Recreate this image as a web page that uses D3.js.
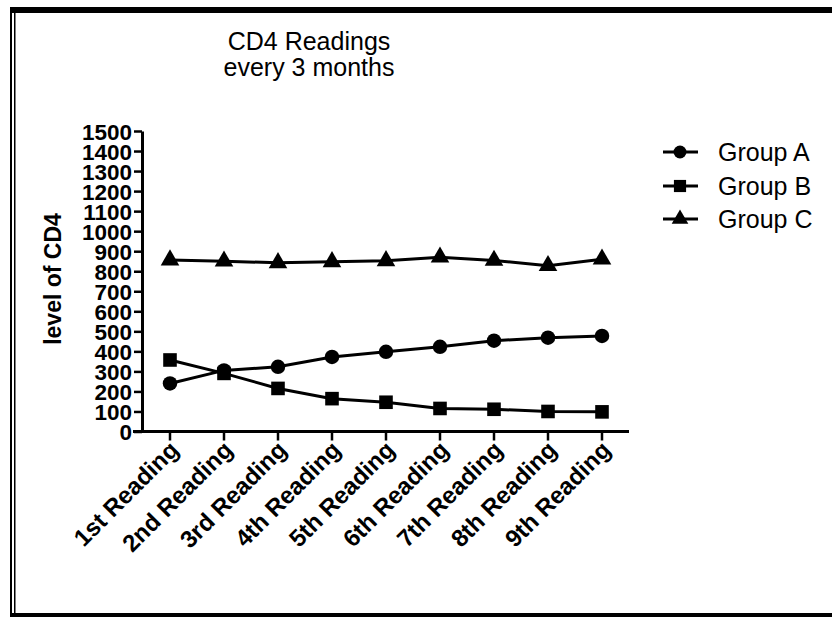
<!DOCTYPE html>
<html>
<head>
<meta charset="utf-8">
<script src="https://cdn.jsdelivr.net/npm/d3@7"></script>
<style>
  html, body { margin: 0; padding: 0; background: #fff; }
  svg { display: block; }
  text { font-family: Arial, "Liberation Sans", sans-serif; fill: #000; }
</style>
</head>
<body>
<svg id="chart" width="832" height="617"></svg>
<script>
const categories = ["1st Reading","2nd Reading","3rd Reading","4th Reading","5th Reading","6th Reading","7th Reading","8th Reading","9th Reading"];
const groupA = [240, 305, 323, 372, 398, 423, 453, 468, 477];
const groupB = [357, 290, 215, 164, 146, 115, 111, 100, 98];
const groupC = [856, 850, 842, 847, 852, 870, 854, 828, 860];
const seriesNames = ["Group A", "Group B", "Group C"];
const yTicks = [0,100,200,300,400,500,600,700,800,900,1000,1100,1200,1300,1400,1500];
const titleLines = ["CD4 Readings", "every 3 months"];
const yLabel = "level of CD4";

const svg = d3.select("#chart");

// frame
svg.append("rect").attr("x", 10).attr("y", 7).attr("width", 822).attr("height", 6).attr("fill", "#000");
svg.append("rect").attr("x", 10).attr("y", 613).attr("width", 822).attr("height", 4).attr("fill", "#000");
svg.append("rect").attr("x", 10).attr("y", 7).attr("width", 2).attr("height", 610).attr("fill", "#000");
svg.append("rect").attr("x", 14).attr("y", 7).attr("width", 1.5).attr("height", 610).attr("fill", "#000");

const x = d3.scaleBand().domain(categories).range([143, 629]);
const y = d3.scaleLinear().domain([0, 1500]).range([431.5, 131]);

// y axis
const yAxis = svg.append("g").attr("transform", "translate(142,0)")
  .call(d3.axisLeft(y).tickValues(yTicks).tickFormat(d3.format("d")).tickSize(8).tickSizeOuter(0).tickPadding(2));
yAxis.select(".domain").attr("stroke-width", 3);
yAxis.selectAll(".tick line").attr("stroke-width", 2.5);
yAxis.selectAll("text").attr("font-size", 22.5).attr("font-weight", "bold").attr("dy", "0.36em");

// x axis
const xAxis = svg.append("g").attr("transform", "translate(0,431.5)")
  .call(d3.axisBottom(x).tickSize(9).tickSizeOuter(0));
xAxis.select(".domain").attr("stroke-width", 3).attr("d", "M133,0H629");
xAxis.selectAll(".tick line").attr("stroke-width", 2.5);
xAxis.selectAll(".tick text")
  .attr("font-size", 24).attr("font-weight", "bold")
  .attr("text-anchor", "end")
  .attr("dy", null).attr("y", 0)
  .attr("transform", "translate(10,20) rotate(-45)");

// title
const title = svg.append("text").attr("x", 309).attr("y", 50).attr("text-anchor", "middle").attr("font-size", 25);
titleLines.forEach((t, i) => title.append("tspan").attr("x", 309).attr("dy", i === 0 ? 0 : 26).text(t));

// y label
svg.append("text").attr("transform", "translate(61,279) rotate(-90)").attr("text-anchor", "middle")
  .attr("font-size", 23).attr("font-weight", "bold").text(yLabel);

const cx = d => x(d) + x.bandwidth() / 2;
const line = d3.line().x((d, i) => cx(categories[i])).y(d => y(d));
const data = [groupA, groupB, groupC];
const symbols = [d3.symbolCircle, d3.symbolSquare, d3.symbolTriangle];
const sizes = [165, 185, 150];

data.forEach((vals, si) => {
  svg.append("path").datum(vals).attr("d", line).attr("fill", "none").attr("stroke", "#000").attr("stroke-width", 3);
  svg.selectAll(null).data(vals).enter().append("path")
    .attr("d", d3.symbol().type(symbols[si]).size(sizes[si]))
    .attr("transform", (d, i) => `translate(${cx(categories[i])},${y(d)})`)
    .attr("fill", "#000");
});

// legend
const legY = [152, 186, 219];
seriesNames.forEach((name, i) => {
  const g = svg.append("g").attr("transform", `translate(0,${legY[i]})`);
  g.append("line").attr("x1", 663).attr("x2", 698).attr("y1", 0).attr("y2", 0).attr("stroke", "#000").attr("stroke-width", 3);
  g.append("path").attr("d", d3.symbol().type(symbols[i]).size(sizes[i] * 0.8)).attr("transform", "translate(680,0)").attr("fill", "#000");
  g.append("text").attr("x", 718).attr("y", 0).attr("dy", "0.36em").attr("font-size", 25).text(name);
});
</script>
</body>
</html>
